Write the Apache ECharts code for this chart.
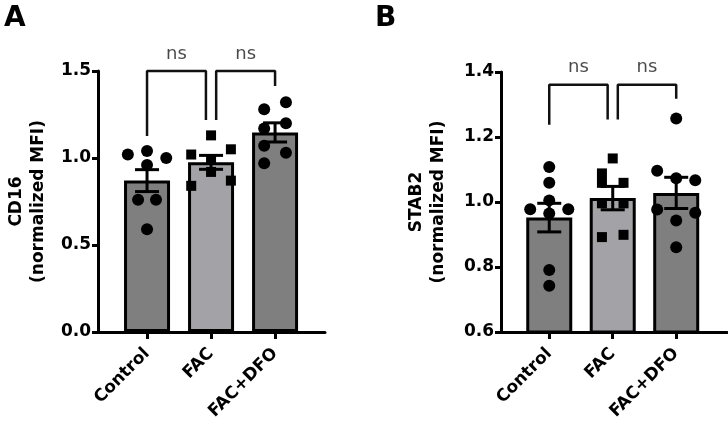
<!DOCTYPE html>
<html>
<head>
<meta charset="utf-8">
<script src="https://cdn.jsdelivr.net/npm/echarts@6/dist/echarts.min.js"></script>
<style>
  html, body { margin: 0; padding: 0; background: #fff; }
  #chart { width: 728px; height: 434px; }
</style>
</head>
<body>
<div id="chart"></div>
<script>
// groups on the x axis
var groups = ['Control', 'FAC', 'FAC+DFO'];
var barColors = ['#7f7f7f', '#a3a3a7', '#7f7f7f'];

// panel A - CD16
var cd16Mean = [0.87, 0.975, 1.147];
var cd16Sem = [0.063, 0.04, 0.055];
var cd16Control = [1.02, 1.04, 1.00, 0.96, 0.76, 0.76, 0.59];
var cd16ControlJit = [-0.3, 0, 0.3, 0, -0.14, 0.14, 0];
var cd16Fac = [1.02, 1.13, 1.05, 0.99, 0.92, 0.84, 0.87];
var cd16FacJit = [-0.31, 0, 0.31, 0, 0, -0.31, 0.31];
var cd16Dfo = [1.28, 1.32, 1.20, 1.17, 1.07, 1.03, 0.97];
var cd16DfoJit = [-0.17, 0.17, 0.17, -0.17, -0.17, 0.17, -0.17];
var cd16Ticks = { min: 0, max: 1.5, interval: 0.5 };
var cd16Bracket1 = [[0, 1.126], [0, 1.5], [0.92, 1.5], [0.92, 1.218]];
var cd16Bracket2 = [[1.08, 1.218], [1.08, 1.5], [2, 1.5], [2, 1.414]];
var cd16Ns = [[0.46, 1.5], [1.54, 1.5]];

// panel B - STAB2
var stab2Mean = [0.952, 1.012, 1.028];
var stab2Sem = [0.044, 0.036, 0.048];
var stab2Control = [1.108, 1.059, 1.005, 0.978, 0.978, 0.965, 0.791, 0.742];
var stab2ControlJit = [0, 0, 0, -0.3, 0.3, 0, 0, 0];
var stab2Fac = [1.134, 1.088, 1.059, 1.059, 0.996, 0.996, 0.892, 0.899];
var stab2FacJit = [0, -0.17, -0.17, 0.17, -0.17, 0.17, -0.17, 0.17];
var stab2Dfo = [1.257, 1.096, 1.073, 1.067, 0.977, 0.967, 0.943, 0.861];
var stab2DfoJit = [0, -0.3, 0, 0.3, -0.3, 0.3, 0, 0];
var stab2Ticks = { min: 0.6, max: 1.4, interval: 0.2 };
var stab2Bracket1 = [[0, 1.238], [0, 1.361], [0.92, 1.361], [0.92, 1.254]];
var stab2Bracket2 = [[1.08, 1.254], [1.08, 1.361], [2, 1.361], [2, 1.318]];
var stab2Ns = [[0.46, 1.361], [1.54, 1.361]];

var font = 'DejaVu Sans';

var chart = echarts.init(document.getElementById('chart'), null, { renderer: 'canvas' });

function points(vals, jit, g) {
    return vals.map(function(v, i) { return [g + jit[i], v]; });
}

function makeX(idx, min, max) {
    return {
        gridIndex: idx, type: 'value', min: min, max: max,
        splitLine: { show: false },
        axisLine: { show: true, onZero: false, lineStyle: { color: '#000', width: 3 } },
        axisTick: { show: true, customValues: [0, 1, 2], length: 7, lineStyle: { color: '#000', width: 3 } },
        axisLabel: {
            customValues: [0, 1, 2], rotate: 45, margin: 19,
            fontFamily: font, fontWeight: 'bold', fontSize: 17, color: '#000',
            formatter: function(v) { return groups[Math.round(v)]; }
        }
    };
}

function makeY(idx, t, name, gap) {
    return {
        gridIndex: idx, type: 'value', min: t.min, max: t.max, interval: t.interval,
        splitLine: { show: false },
        axisLine: { show: true, onZero: false, lineStyle: { color: '#000', width: 3 } },
        axisTick: { show: true, length: 6, lineStyle: { color: '#000', width: 3 } },
        axisLabel: {
            margin: 7, fontFamily: font, fontWeight: 'bold', fontSize: 17, color: '#000',
            formatter: function(v) { return v.toFixed(1); }
        },
        name: name, nameLocation: 'middle', nameRotate: 90, nameGap: gap,
        nameTextStyle: { fontFamily: font, fontWeight: 'bold', fontSize: 17, color: '#000', lineHeight: 22 }
    };
}

function errRender(params, api) {
    var x = api.value(0), m = api.value(1), s = api.value(2);
    var top = api.coord([x, m + s]);
    var bot = api.coord([x, m - s]);
    var hw = 12;
    var st = { stroke: '#000', lineWidth: 3 };
    return {
        type: 'group',
        children: [
            { type: 'line', shape: { x1: top[0], y1: top[1], x2: bot[0], y2: bot[1] }, style: st },
            { type: 'line', shape: { x1: top[0] - hw, y1: top[1], x2: top[0] + hw, y2: top[1] }, style: st },
            { type: 'line', shape: { x1: bot[0] - hw, y1: bot[1], x2: bot[0] + hw, y2: bot[1] }, style: st }
        ]
    };
}

function panelSeries(idx, mean, sem, sets, brackets, ns) {
    var out = [];
    out.push({
        type: 'bar', xAxisIndex: idx, yAxisIndex: idx, barWidth: 46, z: 2,
        itemStyle: { borderColor: '#000', borderWidth: 3 },
        data: mean.map(function(m, i) { return { value: [i, m], itemStyle: { color: barColors[i] } }; })
    });
    sets.forEach(function(s) {
        out.push({
            type: 'scatter', xAxisIndex: idx, yAxisIndex: idx, z: 3, clip: false,
            symbol: s.symbol, symbolSize: s.size, itemStyle: { color: '#000', opacity: 1 },
            data: s.data
        });
    });
    out.push({
        type: 'custom', xAxisIndex: idx, yAxisIndex: idx, z: 4, renderItem: errRender,
        data: mean.map(function(m, i) { return [i, m, sem[i]]; })
    });
    brackets.forEach(function(b) {
        out.push({
            type: 'line', xAxisIndex: idx, yAxisIndex: idx, z: 4, clip: false, silent: true,
            symbol: 'none', lineStyle: { color: '#111', width: 2.5 }, data: b
        });
    });
    out.push({
        type: 'scatter', xAxisIndex: idx, yAxisIndex: idx, z: 5, clip: false, silent: true,
        symbolSize: 2, itemStyle: { color: 'rgba(0,0,0,0)' },
        label: { show: true, position: 'top', distance: 7, formatter: 'ns',
                 fontFamily: font, fontSize: 18, color: '#1a1a1a' },
        data: ns
    });
    return out;
}

var seriesA = panelSeries(0, cd16Mean, cd16Sem, [
    { symbol: 'circle', size: 12, data: points(cd16Control, cd16ControlJit, 0) },
    { symbol: 'rect', size: 10, data: points(cd16Fac, cd16FacJit, 1) },
    { symbol: 'circle', size: 12, data: points(cd16Dfo, cd16DfoJit, 2) }
], [cd16Bracket1, cd16Bracket2], cd16Ns);

var seriesB = panelSeries(1, stab2Mean, stab2Sem, [
    { symbol: 'circle', size: 12, data: points(stab2Control, stab2ControlJit, 0) },
    { symbol: 'rect', size: 10, data: points(stab2Fac, stab2FacJit, 1) },
    { symbol: 'circle', size: 12, data: points(stab2Dfo, stab2DfoJit, 2) }
], [stab2Bracket1, stab2Bracket2], stab2Ns);

chart.setOption({
    animation: false,
    backgroundColor: '#fff',
    title: [
        { text: 'A', left: 4, top: 5, padding: 0, textStyle: { fontFamily: font, fontWeight: 'bold', fontSize: 28, color: '#000' } },
        { text: 'B', left: 375, top: 5, padding: 0, textStyle: { fontFamily: font, fontWeight: 'bold', fontSize: 28, color: '#000' } }
    ],
    grid: [
        { left: 98, top: 71, width: 227, height: 261 },
        { left: 501, top: 72, width: 226, height: 260 }
    ],
    xAxis: [makeX(0, -0.766, 2.78), makeX(1, -0.76, 2.8)],
    yAxis: [
        makeY(0, cd16Ticks, 'CD16\n(normalized MFI)', 48),
        makeY(1, stab2Ticks, 'STAB2\n(normalized MFI)', 51)
    ],
    series: seriesA.concat(seriesB)
});
</script>
</body>
</html>
